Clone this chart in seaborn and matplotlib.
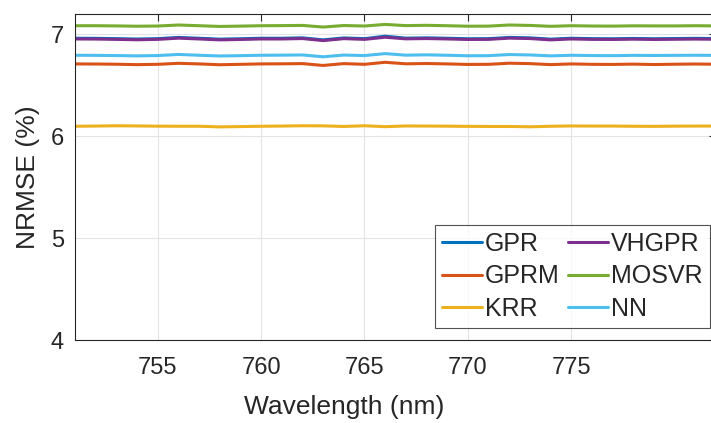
import numpy as np
import pandas as pd
import matplotlib
matplotlib.use('Agg')
import matplotlib.pyplot as plt
import seaborn as sns

wavelength = np.arange(751, 784)

gpr = [6.962, 6.961, 6.958, 6.954, 6.958, 6.970, 6.962, 6.953, 6.957, 6.962,
       6.962, 6.966, 6.946, 6.965, 6.958, 6.982, 6.963, 6.966, 6.962, 6.957,
       6.958, 6.970, 6.966, 6.953, 6.962, 6.958, 6.957, 6.960, 6.957, 6.959,
       6.961, 6.959, 6.957]
gprm = [6.710, 6.709, 6.707, 6.703, 6.706, 6.716, 6.710, 6.702, 6.706, 6.710,
        6.711, 6.713, 6.695, 6.713, 6.706, 6.726, 6.711, 6.714, 6.710, 6.705,
        6.706, 6.717, 6.713, 6.703, 6.710, 6.706, 6.705, 6.708, 6.704, 6.707,
        6.709, 6.707, 6.705]
krr = [6.098, 6.100, 6.103, 6.101, 6.099, 6.098, 6.098, 6.092, 6.095, 6.098,
       6.100, 6.103, 6.102, 6.096, 6.103, 6.094, 6.101, 6.100, 6.099, 6.097,
       6.096, 6.096, 6.093, 6.098, 6.101, 6.100, 6.100, 6.098, 6.097, 6.099,
       6.100, 6.100, 6.099]
vhgpr = [6.955, 6.954, 6.951, 6.947, 6.951, 6.963, 6.955, 6.946, 6.950, 6.955,
         6.955, 6.959, 6.939, 6.958, 6.951, 6.972, 6.956, 6.959, 6.955, 6.950,
         6.951, 6.963, 6.959, 6.946, 6.955, 6.951, 6.950, 6.953, 6.950, 6.952,
         6.954, 6.952, 6.950]
mosvr = [7.085, 7.085, 7.083, 7.080, 7.082, 7.092, 7.085, 7.078, 7.081, 7.085,
         7.086, 7.088, 7.072, 7.087, 7.082, 7.098, 7.086, 7.089, 7.085, 7.080,
         7.081, 7.092, 7.088, 7.079, 7.085, 7.082, 7.081, 7.084, 7.083, 7.083,
         7.085, 7.083, 7.081]
nn = [6.795, 6.794, 6.792, 6.789, 6.792, 6.803, 6.795, 6.788, 6.791, 6.795,
      6.796, 6.798, 6.780, 6.797, 6.792, 6.811, 6.796, 6.799, 6.795, 6.790,
      6.791, 6.802, 6.798, 6.789, 6.795, 6.792, 6.791, 6.794, 6.793, 6.794,
      6.795, 6.794, 6.793]

models = ['GPR', 'GPRM', 'KRR', 'VHGPR', 'MOSVR', 'NN']
series = [gpr, gprm, krr, vhgpr, mosvr, nn]
colors = ['#0072BD', '#D95319', '#EDB120', '#7E2F8E', '#77AC30', '#4DBEEE']

df = pd.DataFrame({'wavelength': np.tile(wavelength, len(models)),
                   'nrmse': np.concatenate(series),
                   'model': np.repeat(models, len(wavelength))})

sns.set_style('white')
plt.rcParams['font.family'] = ['Liberation Sans', 'DejaVu Sans']

fig = plt.figure(figsize=(7.11, 4.23), dpi=100)
ax = fig.add_axes([75 / 711, 83 / 423, 641 / 711, 326 / 423])

sns.lineplot(data=df, x='wavelength', y='nrmse', hue='model',
             hue_order=models, palette=dict(zip(models, colors)),
             linewidth=2.2, ax=ax)

ax.set_xlim(751, 782)
ax.set_ylim(4, 7.2)
ax.set_xticks([755, 760, 765, 770, 775])
ax.set_yticks([4, 5, 6, 7])
ax.grid(True, color='#e3e3e3', linewidth=0.8)
ax.tick_params(direction='in', length=5, width=0.8, colors='#262626',
               labelsize=17, top=True, right=True)
ax.tick_params(axis='x', pad=12)
ax.tick_params(axis='y', pad=8)
for s in ax.spines.values():
    s.set_color('#262626')
    s.set_linewidth(0.8)

ax.set_xlabel('Wavelength (nm)', fontsize=19, color='#262626')
ax.set_ylabel('NRMSE (%)', fontsize=19, color='#262626')
ax.xaxis.set_label_coords((344 - 75) / 641, -0.17)
ax.yaxis.set_label_coords(-0.055, 0.5)

handles, labels = ax.get_legend_handles_labels()
leg = ax.legend(handles, labels, ncol=2, loc='lower right', fontsize=18,
                frameon=True, fancybox=False, edgecolor='#262626',
                handlelength=1.6, handletextpad=0.1, columnspacing=0.35,
                labelspacing=0.33, borderpad=0.3, borderaxespad=0,
                bbox_to_anchor=(1 - 6 / 641, 12 / 326))
leg.get_frame().set_linewidth(0.8)

fig.savefig('out.png', dpi=100)
